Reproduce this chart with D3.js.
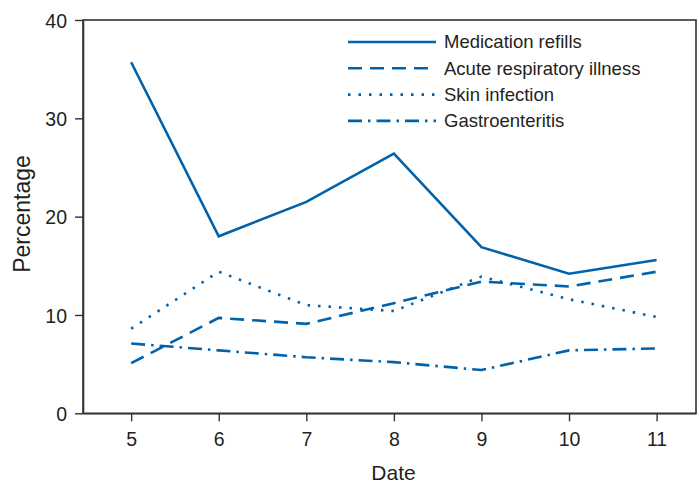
<!DOCTYPE html>
<html>
<head>
<meta charset="utf-8">
<script src="https://cdn.jsdelivr.net/npm/d3@7"></script>
<style>
body { margin: 0; background: #fff; }
text { font-family: "Liberation Sans", Arial, sans-serif; fill: #231f20; }
</style>
</head>
<body>
<script>
var width = 699, height = 485;
var margin = {top: 20, right: 3, bottom: 72, left: 83};

var dates = [5, 6, 7, 8, 9, 10, 11];
var medication = [35.7, 18.0, 21.5, 26.4, 16.9, 14.2, 15.6];
var respiratory = [5.1, 9.7, 9.1, 11.2, 13.4, 12.9, 14.4];
var skin = [8.6, 14.4, 11.0, 10.4, 13.9, 11.6, 9.8];
var gastro = [7.1, 6.4, 5.7, 5.2, 4.4, 6.4, 6.6];
var yTicks = [0, 10, 20, 30, 40];

var seriesNames = ["Medication refills", "Acute respiratory illness", "Skin infection", "Gastroenteritis"];
var seriesValues = [medication, respiratory, skin, gastro];
var dashes = [null, "14,8", "2.5,8", "14,6,2.5,6"];
var blue = "#0062aa";

var svg = d3.select("body")
    .append("svg")
    .attr("width", width)
    .attr("height", height);

var x = d3.scaleLinear()
    .domain([4.45, 11.45])
    .range([margin.left, width - margin.right]);
var y = d3.scaleLinear()
    .domain([0, 40])
    .range([height - margin.bottom + 0.3, margin.top]);

// frame
svg.append("rect")
    .attr("x", margin.left)
    .attr("y", margin.top)
    .attr("width", width - margin.right - margin.left)
    .attr("height", y(0) - margin.top)
    .attr("fill", "none")
    .attr("stroke", "#333")
    .attr("stroke-width", 1.6);

var xAxis = svg.append("g")
    .attr("transform", "translate(0," + y(0) + ")")
    .call(d3.axisBottom(x).tickValues(dates).tickFormat(d3.format("d"))
        .tickSize(8).tickSizeOuter(0).tickPadding(11));
var yAxis = svg.append("g")
    .attr("transform", "translate(" + margin.left + ",0)")
    .call(d3.axisLeft(y).tickValues(yTicks).tickFormat(d3.format("d"))
        .tickSize(8).tickSizeOuter(0).tickPadding(8));

[xAxis, yAxis].forEach(function (g) {
    g.select(".domain").attr("stroke", "#333").attr("stroke-width", 1.6);
    g.selectAll(".tick line").attr("stroke", "#333").attr("stroke-width", 1.4);
    g.selectAll(".tick text")
        .style("font-family", "'Liberation Sans', Arial, sans-serif")
        .style("font-size", "19.5px")
        .attr("fill", "#231f20");
});
yAxis.selectAll(".tick text").attr("dy", "0.36em");

// series
var line = d3.line()
    .x(function (d, i) { return x(dates[i]); })
    .y(function (d) { return y(d); });

seriesValues.forEach(function (vals, k) {
    svg.append("path")
        .datum(vals)
        .attr("d", line)
        .attr("fill", "none")
        .attr("stroke", blue)
        .attr("stroke-width", 2.6)
        .attr("stroke-dasharray", dashes[k]);
});

// legend
var legend = svg.append("g").attr("transform", "translate(348,42)");
seriesNames.forEach(function (name, k) {
    var row = legend.append("g").attr("transform", "translate(0," + (k * 26.3) + ")");
    row.append("line")
        .attr("x1", 0).attr("x2", 88)
        .attr("y1", 0).attr("y2", 0)
        .attr("stroke", blue)
        .attr("stroke-width", 2.6)
        .attr("stroke-dasharray", dashes[k]);
    row.append("text")
        .attr("x", 96)
        .attr("y", 0)
        .attr("dy", "0.35em")
        .style("font-size", "18.5px")
        .text(name);
});

// axis titles
svg.append("text")
    .attr("x", (margin.left + width - margin.right) / 2 + 4)
    .attr("y", 480)
    .attr("text-anchor", "middle")
    .style("font-size", "21px")
    .text("Date");
svg.append("text")
    .attr("transform", "translate(30,214) rotate(-90)")
    .attr("text-anchor", "middle")
    .style("font-size", "23px")
    .text("Percentage");
</script>
</body>
</html>
